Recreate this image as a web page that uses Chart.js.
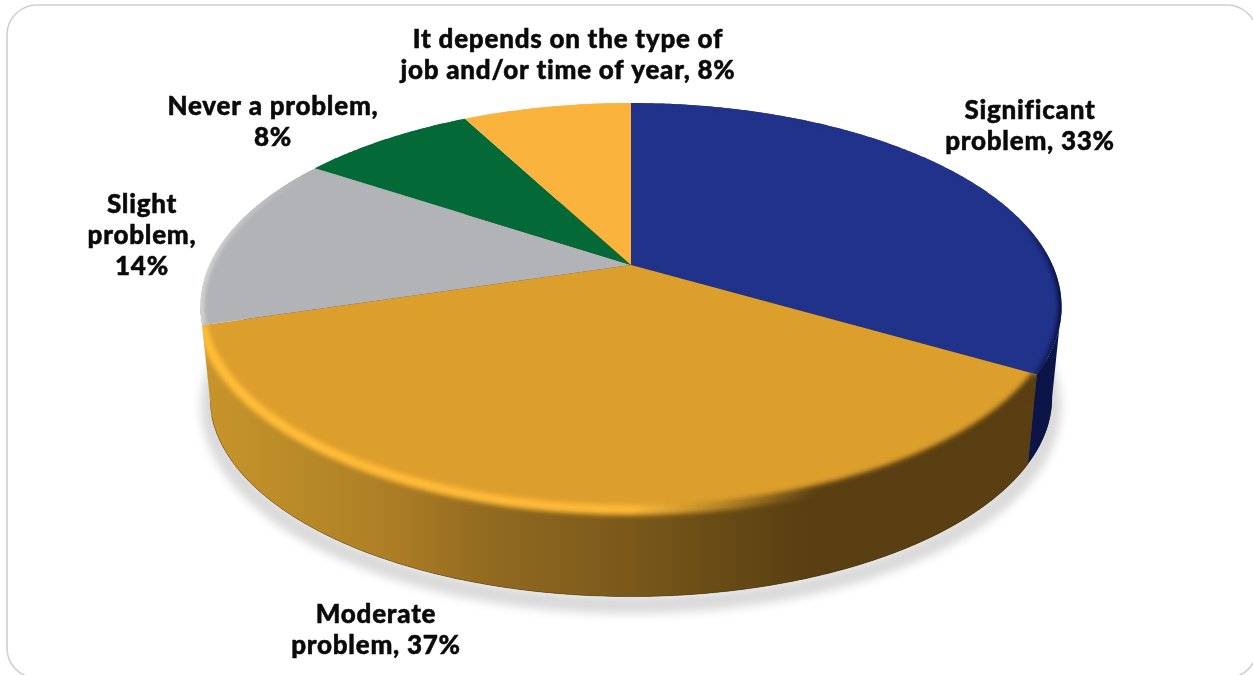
<!DOCTYPE html>
<html>
<head>
<meta charset="utf-8">
<title>Pie</title>
<script src="https://cdn.jsdelivr.net/npm/chart.js@4"></script>
<style>
  html, body { margin: 0; padding: 0; background: #fff; }
  canvas { display: block; }
</style>
</head>
<body>
<canvas id="myChart" width="1253" height="675"></canvas>
<script>
const categories = ["Significant problem", "Moderate problem", "Slight problem", "Never a problem", "It depends on the type of job and/or time of year"];
const shares = [33.4, 36.9, 14.0, 8.0, 7.7];
const sliceLabels = [
  ["Significant", "problem, 33%"],
  ["Moderate", "problem, 37%"],
  ["Slight", "problem,", "14%"],
  ["Never a problem,", "8%"],
  ["It depends on the type of", "job and/or time of year, 8%"],
];

const sliceColors = ["#21328a", "#dd9f2c", "#b1b3b6", "#036a37", "#fab33c"];
const wallColors = ["#0b1548", null, "#8b8d90", "#024a26", "#a87a28"];
// centre x of each text block and baseline of its first line
const labelAnchors = [[1030, 119], [376, 623], [142, 213], [273, 115], [568, 48]];
const lineHeight = 31;

// perspective of the disc: the apex sits above the middle of the ellipse
const squash = 0.4626;
const tilt = 0.204;
const lowerScale = 0.978;
const lowerDrop = 92;

function rimPoint(arc, angle, lower) {
  const theta = angle + Math.PI / 2;
  const s = Math.sin(theta);
  const c = Math.cos(theta);
  const w = 1 + tilt * c;
  const scale = lower ? lowerScale : 1;
  const r = arc.outerRadius * scale;
  return {
    x: arc.x + (r * s) / w,
    y: arc.y + (lower ? lowerDrop : 0) - (r * squash * c) / w,
  };
}

function traceRim(ctx, arc, from, to, lower, move) {
  const steps = Math.max(2, Math.ceil(Math.abs(to - from) / 0.01));
  for (let i = 0; i <= steps; i++) {
    const p = rimPoint(arc, from + ((to - from) * i) / steps, lower);
    if (i === 0 && move) ctx.moveTo(p.x, p.y);
    else ctx.lineTo(p.x, p.y);
  }
}

function moderateWallGradient(ctx) {
  const g = ctx.createLinearGradient(200, 0, 1040, 0);
  const stops = [[0, "#c9952b"], [0.12, "#b98a28"], [0.24, "#ab7c25"], [0.33, "#946c21"], [0.48, "#7f5c1c"], [0.6, "#6b4e16"], [0.72, "#5a3f12"], [1, "#5a3f12"]];
  stops.forEach((s) => g.addColorStop(s[0], s[1]));
  return g;
}

function bevelStyle(ctx, index) {
  const g = ctx.createLinearGradient(200, 0, 1060, 0);
  if (index === 1) {
    g.addColorStop(0, "#ffbd38");
    g.addColorStop(0.5, "#ffb938");
    g.addColorStop(0.6, "#b98a28");
    g.addColorStop(0.72, "#5a3f12");
    g.addColorStop(1, "#5a3f12");
  } else if (index === 0) {
    g.addColorStop(0.5, "#21328a");
    g.addColorStop(0.95, "#21328a");
    g.addColorStop(1, "#0a1242");
  } else {
    g.addColorStop(0, "#d4d6d8");
    g.addColorStop(0.12, sliceColors[index]);
    g.addColorStop(1, sliceColors[index]);
  }
  return g;
}

const perspectivePie = {
  id: "perspectivePie",
  beforeDatasetDraw(chart) {
    const ctx = chart.ctx;
    const arcs = chart.getDatasetMeta(0).data;
    const first = arcs[0];

    // ground shadow, from the lower disc
    ctx.save();
    ctx.filter = "blur(5px)";
    ctx.translate(0, 8);
    ctx.beginPath();
    traceRim(ctx, first, -Math.PI / 2, 1.5 * Math.PI, true, true);
    ctx.closePath();
    ctx.strokeStyle = "rgba(0,0,0,0.15)";
    ctx.lineWidth = 18;
    ctx.stroke();
    ctx.restore();

    ctx.save();
    ctx.beginPath();
    traceRim(ctx, first, -Math.PI / 2, 1.5 * Math.PI, true, true);
    ctx.closePath();
    ctx.fillStyle = "#5a3f12";
    ctx.fill();
    ctx.restore();

    // side wall, only the part that faces the viewer
    const wallFrom = 0.205;
    const wallTo = Math.PI - 0.205;
    arcs.forEach((arc, i) => {
      const from = Math.max(arc.startAngle, wallFrom);
      const to = Math.min(arc.endAngle, wallTo);
      if (to <= from) return;
      ctx.beginPath();
      traceRim(ctx, arc, from, to, false, true);
      traceRim(ctx, arc, to, from, true, false);
      ctx.closePath();
      ctx.fillStyle = wallColors[i] || moderateWallGradient(ctx);
      ctx.fill();
      if (i === 1) {
        ctx.beginPath();
        traceRim(ctx, arc, from, to, true, true);
        ctx.strokeStyle = "rgba(60,40,5,0.35)";
        ctx.lineWidth = 1;
        ctx.stroke();
      }
    });

    // top faces with a soft bevel along the rim
    arcs.forEach((arc, i) => {
      ctx.save();
      ctx.beginPath();
      ctx.moveTo(arc.x, arc.y);
      traceRim(ctx, arc, arc.startAngle, arc.endAngle, false, false);
      ctx.closePath();
      ctx.fillStyle = sliceColors[i];
      ctx.fill();
      if (i === 1) {
        // the moderate bevel also rolls over onto its wall
        traceRim(ctx, arc, arc.startAngle, arc.endAngle, false, true);
        traceRim(ctx, arc, arc.endAngle, arc.startAngle, true, false);
        ctx.closePath();
      }
      ctx.clip();
      ctx.beginPath();
      traceRim(ctx, arc, arc.startAngle, arc.endAngle, false, true);
      ctx.filter = i === 1 ? "blur(2.5px)" : "blur(2px)";
      ctx.strokeStyle = bevelStyle(ctx, i);
      ctx.lineWidth = i === 1 ? 10 : 7;
      ctx.stroke();
      ctx.restore();
    });
    return false;
  },
  afterDatasetsDraw(chart) {
    const ctx = chart.ctx;
    ctx.save();
    ctx.fillStyle = "#0a0a0a";
    ctx.strokeStyle = "#0a0a0a";
    ctx.lineWidth = 0.5;
    ctx.font = "900 26px Lato";
    ctx.letterSpacing = "0.75px";
    ctx.textAlign = "center";
    ctx.textBaseline = "alphabetic";
    sliceLabels.forEach((lines, i) => {
      lines.forEach((line, j) => {
        ctx.fillText(line, labelAnchors[i][0], labelAnchors[i][1] + j * lineHeight);
        ctx.strokeText(line, labelAnchors[i][0], labelAnchors[i][1] + j * lineHeight);
      });
    });
    ctx.restore();
  },
  afterDraw(chart) {
    const ctx = chart.ctx;
    ctx.save();
    ctx.strokeStyle = "#cfcfcf";
    ctx.lineWidth = 1.6;
    ctx.beginPath();
    ctx.roundRect(7, 5, 1250, 673, 30);
    ctx.stroke();
    ctx.restore();
  },
};

const ctx = document.getElementById("myChart").getContext("2d");
new Chart(ctx, {
  type: "pie",
  data: {
    labels: categories,
    datasets: [{ data: shares, backgroundColor: sliceColors, borderWidth: 0 }],
  },
  options: {
    responsive: false,
    animation: false,
    radius: 421.5,
    layout: { padding: { left: 9, bottom: 145 } },
    plugins: { legend: { display: false }, tooltip: { enabled: false } },
  },
  plugins: [perspectivePie],
});
</script>
</body>
</html>
